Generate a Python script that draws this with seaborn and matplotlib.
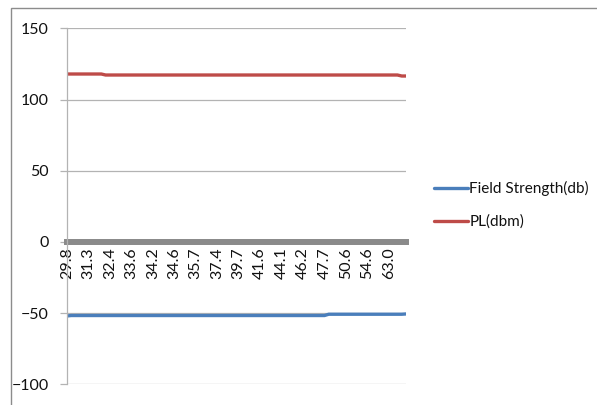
import matplotlib
matplotlib.use("Agg")
import matplotlib.pyplot as plt
import seaborn as sns
import pandas as pd
from matplotlib.patches import Rectangle

# Distance labels shown on the category axis (every fifth sample is labelled)
distance_labels = ["29.8", "31.3", "32.4", "33.6", "34.2", "34.6", "35.7", "37.4",
                   "39.7", "41.6", "44.1", "46.2", "47.7", "50.6", "54.6", "63.0"]
label_step = 5

# Measured field strength (db), one value per sample
field_strength = [
    -52.0, -51.7, -51.7, -51.7, -51.7, -51.7, -51.7, -51.7, -51.7, -51.7,
    -51.7, -51.7, -51.7, -51.7, -51.7, -51.7, -51.7, -51.7, -51.7, -51.7,
    -51.7, -51.7, -51.7, -51.7, -51.7, -51.7, -51.7, -51.7, -51.7, -51.7,
    -51.7, -51.7, -51.7, -51.7, -51.7, -51.7, -51.7, -51.7, -51.7, -51.7,
    -51.7, -51.7, -51.7, -51.7, -51.7, -51.7, -51.7, -51.7, -51.7, -51.7,
    -51.7, -51.7, -51.7, -51.7, -51.7, -51.7, -51.7, -51.7, -51.7, -51.7,
    -51.7, -50.8, -50.8, -50.8, -50.8, -50.8, -50.8, -50.8, -50.8, -50.8,
    -50.8, -50.8, -50.8, -50.8, -50.8, -50.8, -50.8, -50.8, -50.8, -50.6,
]

# Path loss (dbm), one value per sample
path_loss = [
    117.9, 117.9, 117.9, 117.9, 117.9, 117.9, 117.9, 117.9, 117.9, 117.2,
    117.2, 117.2, 117.2, 117.2, 117.2, 117.2, 117.2, 117.2, 117.2, 117.2,
    117.2, 117.2, 117.2, 117.2, 117.2, 117.2, 117.2, 117.2, 117.2, 117.2,
    117.2, 117.2, 117.2, 117.2, 117.2, 117.2, 117.2, 117.2, 117.2, 117.2,
    117.2, 117.2, 117.2, 117.2, 117.2, 117.2, 117.2, 117.2, 117.2, 117.2,
    117.2, 117.2, 117.2, 117.2, 117.2, 117.2, 117.2, 117.2, 117.2, 117.2,
    117.2, 117.2, 117.2, 117.2, 117.2, 117.2, 117.2, 117.2, 117.2, 117.2,
    117.2, 117.2, 117.2, 117.2, 117.2, 117.2, 117.2, 117.2, 116.5, 116.5,
]

series_names = ["Field Strength(db)", "PL(dbm)"]
series_colors = {"Field Strength(db)": "#4A7EBB", "PL(dbm)": "#BE4B48"}

n = len(field_strength)
df = pd.concat([
    pd.DataFrame({"sample": range(n), "value": field_strength, "series": series_names[0]}),
    pd.DataFrame({"sample": range(n), "value": path_loss, "series": series_names[1]}),
])

sns.set_style("white")
plt.rcParams["font.family"] = ["Lato", "DejaVu Sans"]
text_size = 11.5
text_color = "#111111"

fig = plt.figure(figsize=(5.97, 4.05), dpi=100)
ax = fig.add_axes([67 / 597, 1 - 384.3 / 405, (406 - 67) / 597, (384.3 - 28.3) / 405])

sns.lineplot(data=df, x="sample", y="value", hue="series", hue_order=series_names,
             palette=series_colors, linewidth=2.4, ax=ax, legend=True)

ax.set_xlim(0, n - 1)
ax.set_ylim(-100, 150)
ax.set_yticks([-100, -50, 0, 50, 100, 150])
ax.yaxis.grid(True, color="#b3b3b3", linewidth=0.9)
ax.set_axisbelow(True)
ax.set_xlabel("")
ax.set_ylabel("")

# Category axis sits on y = 0 with vertical labels beneath it
ax.spines["bottom"].set_position(("data", 0))
ax.spines["bottom"].set_color("#8a8a8a")
ax.spines["bottom"].set_linewidth(4.3)
ax.spines["bottom"].set_zorder(1)
ax.spines["left"].set_color("#b3b3b3")
ax.spines["left"].set_linewidth(0.9)
ax.spines["top"].set_visible(False)
ax.spines["right"].set_visible(False)

ax.set_xticks(range(0, n, label_step))
ax.set_xticklabels(distance_labels, rotation=90, fontsize=text_size, color=text_color)
ax.tick_params(axis="x", length=0, pad=4)
ax.tick_params(axis="y", length=5, width=0.9, color="#b3b3b3", labelsize=text_size,
               labelcolor=text_color, pad=8, left=True)

leg = ax.legend(loc="center left", bbox_to_anchor=(428 / 597, 1 - 205 / 405),
                bbox_transform=fig.transFigure, frameon=False, fontsize=11,
                handlelength=2.2, handletextpad=0.1, labelspacing=1.2,
                borderaxespad=0)
for t in leg.get_texts():
    t.set_color(text_color)
for h in leg.get_lines():
    h.set_linewidth(2.4)

# Chart frame
fig.patches.append(Rectangle((10.5 / 597, -0.05), 1.1, 1 - 7.5 / 405 + 0.05,
                             transform=fig.transFigure, fill=False,
                             edgecolor="#8c8c8c", linewidth=1.0))

fig.savefig("out.png", dpi=100)
